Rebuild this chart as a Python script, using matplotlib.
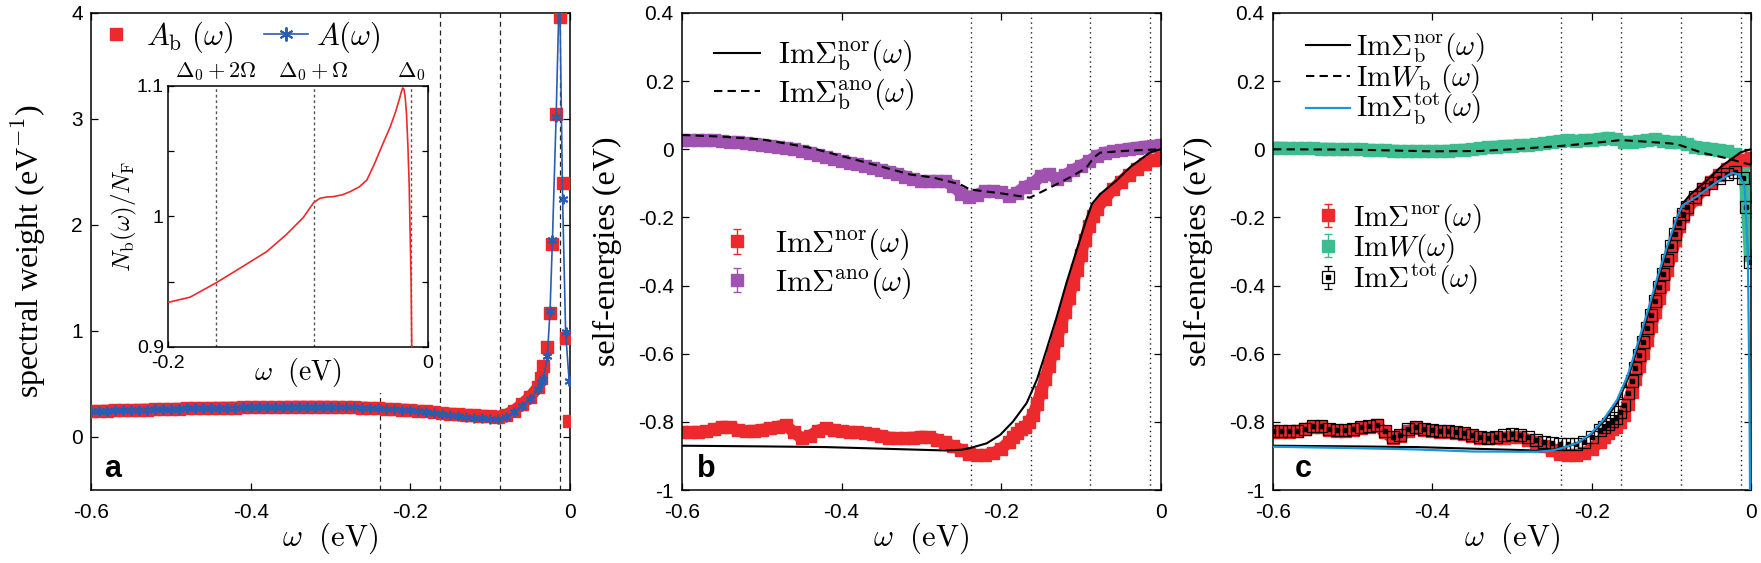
import numpy as np
import matplotlib.pyplot as plt
from matplotlib.lines import Line2D
from matplotlib.patches import Rectangle
from matplotlib.ticker import FuncFormatter
from matplotlib.legend_handler import HandlerTuple, HandlerErrorbar

plt.rcParams['mathtext.fontset'] = 'cm'
plt.rcParams['font.family'] = ['Liberation Sans', 'DejaVu Sans']
plt.rcParams['axes.unicode_minus'] = False

RED = '#ec2a2d'
BLUE = '#2a5cb0'
PURPLE = '#a052b0'
GREEN = '#3dbd8f'
SKY = '#1b96d8'

# energies of the Delta0 + n*Omega lines (eV)
delta_lines = [-0.238, -0.163, -0.088, -0.013]
inset_labels = [r'$\Delta_0+2\Omega$', r'$\Delta_0+\Omega$', r'$\Delta_0$']

# frequency grids (eV)
w_left = [-0.60, -0.59, -0.58, -0.57, -0.56, -0.55, -0.54, -0.53, -0.52, -0.51,
          -0.50, -0.49, -0.48, -0.47, -0.46, -0.45, -0.44, -0.43, -0.42, -0.41,
          -0.40, -0.39, -0.38, -0.37, -0.36, -0.35, -0.34, -0.33, -0.32, -0.31,
          -0.30, -0.29, -0.28, -0.27, -0.26, -0.25, -0.24, -0.23, -0.22, -0.21,
          -0.20, -0.19]
w_mid = [-0.18, -0.17, -0.16, -0.15, -0.14, -0.13, -0.12, -0.11, -0.10, -0.09, -0.08]
w_rise = [-0.185, -0.180, -0.175, -0.170, -0.165, -0.160, -0.155, -0.150, -0.145, -0.140,
          -0.135, -0.130, -0.125, -0.120, -0.115, -0.110, -0.105, -0.100, -0.095, -0.090,
          -0.085, -0.080]
w_tail = [-0.07, -0.06, -0.05, -0.04, -0.03, -0.02, -0.01]

# ---- panel a: spectral weight ----
w_a_band = w_left + w_mid + [-0.07, -0.06, -0.05, -0.04]
Ab_band = [0.245, 0.247, 0.249, 0.251, 0.253, 0.255, 0.257, 0.259, 0.261, 0.263,
           0.265, 0.267, 0.269, 0.271, 0.273, 0.275, 0.276, 0.277, 0.278, 0.279,
           0.280, 0.281, 0.282, 0.283, 0.284, 0.285, 0.286, 0.286, 0.286, 0.286,
           0.285, 0.284, 0.283, 0.281, 0.278, 0.275, 0.271, 0.267, 0.263, 0.259,
           0.255, 0.248, 0.241, 0.234, 0.227, 0.221, 0.215, 0.210, 0.206, 0.202,
           0.197, 0.192, 0.210, 0.250, 0.310, 0.380, 0.470]
A_band = [0.245, 0.247, 0.249, 0.251, 0.253, 0.255, 0.257, 0.259, 0.261, 0.263,
          0.265, 0.267, 0.269, 0.271, 0.273, 0.275, 0.276, 0.277, 0.278, 0.279,
          0.280, 0.281, 0.282, 0.283, 0.284, 0.285, 0.286, 0.286, 0.286, 0.286,
          0.285, 0.284, 0.283, 0.281, 0.278, 0.275, 0.271, 0.267, 0.263, 0.259,
          0.255, 0.246, 0.236, 0.226, 0.215, 0.205, 0.196, 0.188, 0.182, 0.176,
          0.170, 0.166, 0.190, 0.235, 0.295, 0.360, 0.450]
w_a_edge = [-0.036, -0.0333, -0.0284, -0.0250, -0.0220, -0.0174, -0.0131, -0.0093, -0.0055, -0.0011]
Ab_edge = [0.56, 0.67, 0.85, 1.17, 1.82, 3.05, 3.96, 2.40, 0.93, 0.15]
A_edge = [0.52, 0.55, 0.76, 1.19, 1.86, 3.02, 4.30, 2.25, 0.99, 0.53]

# inset: N_b(w)/N_F
w_in = [-0.200, -0.183, -0.163, -0.145, -0.124, -0.109, -0.096, -0.088, -0.083, -0.078,
        -0.073, -0.066, -0.060, -0.053, -0.047, -0.041, -0.035, -0.029, -0.025, -0.022,
        -0.0205, -0.0195, -0.0185, -0.0175, -0.0165, -0.0155, -0.0145, -0.0138, -0.0130,
        -0.0125]
n_in = [0.934, 0.938, 0.949, 0.960, 0.973, 0.986, 0.999, 1.0105, 1.0139, 1.0148,
        1.0151, 1.0165, 1.0189, 1.0225, 1.0279, 1.0407, 1.055, 1.0688, 1.080, 1.090,
        1.0955, 1.0985, 1.0975, 1.091, 1.078, 1.055, 1.025, 0.990, 0.950, 0.900]

# ---- panel b / c: self-energies ----
w_sig = w_left + w_rise + w_tail + [0.0]
sig_nor = [-0.830, -0.830, -0.829, -0.828, -0.822, -0.814, -0.815, -0.824, -0.828, -0.826,
           -0.823, -0.819, -0.814, -0.810, -0.830, -0.848, -0.842, -0.826, -0.819, -0.823,
           -0.828, -0.829, -0.831, -0.834, -0.837, -0.841, -0.846, -0.848, -0.848, -0.846,
           -0.843, -0.845, -0.852, -0.860, -0.872, -0.882, -0.894, -0.898, -0.897, -0.892,
           -0.880, -0.858,
           -0.845, -0.832, -0.822, -0.815, -0.800, -0.780, -0.748, -0.712, -0.675, -0.635,
           -0.597, -0.559, -0.518, -0.477, -0.436, -0.395, -0.353, -0.310, -0.267, -0.225,
           -0.196, -0.175,
           -0.145, -0.118, -0.095, -0.075, -0.058, -0.042, -0.032, -0.025]

w_full = w_left + w_mid + w_tail + [0.0]
sig_ano = [0.027, 0.027, 0.027, 0.027, 0.026, 0.024, 0.022, 0.020, 0.018, 0.016,
           0.014, 0.011, 0.008, 0.004, 0.000, -0.005, -0.010, -0.016, -0.022, -0.028,
           -0.034, -0.039, -0.044, -0.050, -0.056, -0.061, -0.066, -0.072, -0.080, -0.088,
           -0.093, -0.094, -0.093, -0.094, -0.108, -0.130, -0.140, -0.133, -0.123, -0.123,
           -0.125, -0.137, -0.127, -0.110, -0.100, -0.078, -0.072, -0.088, -0.075, -0.062,
           -0.048, -0.035, -0.020, -0.010, -0.006, -0.002, 0.002, 0.005, 0.008, 0.010,
           0.012]

w_b_nor = [-0.600, -0.500, -0.420, -0.330, -0.270, -0.250, -0.239, -0.218, -0.201, -0.185,
           -0.168, -0.155, -0.143, -0.130, -0.118, -0.105, -0.093, -0.086, -0.076, -0.056,
           -0.037, -0.013, 0.000]
sigb_nor = [-0.870, -0.872, -0.874, -0.880, -0.884, -0.882, -0.877, -0.863, -0.838, -0.799,
            -0.745, -0.676, -0.588, -0.490, -0.392, -0.294, -0.206, -0.160, -0.132, -0.093,
            -0.050, -0.009, 0.000]

w_b_ano = [-0.600, -0.550, -0.500, -0.440, -0.377, -0.314, -0.285, -0.251, -0.239, -0.201,
           -0.164, -0.139, -0.110, -0.093, -0.084, -0.076, -0.040, 0.000]
sigb_ano = [0.042, 0.037, 0.029, 0.005, -0.034, -0.074, -0.083, -0.103, -0.118, -0.129,
            -0.142, -0.113, -0.078, -0.054, -0.025, -0.010, -0.004, 0.000]

w_W = w_left + w_mid + w_tail + [-0.006, -0.0016]
W_vals = [0.005, 0.005, 0.004, 0.004, 0.003, 0.003, 0.002, 0.002, 0.001, 0.001,
          0.000, 0.000, -0.001, -0.002, -0.003, -0.004, -0.005, -0.006, -0.006, -0.006,
          -0.006, -0.005, -0.004, -0.003, -0.001, 0.001, 0.004, 0.006, 0.008, 0.010,
          0.011, 0.012, 0.013, 0.015, 0.018, 0.022, 0.025, 0.026, 0.025, 0.026,
          0.028, 0.031, 0.034, 0.030, 0.022, 0.021, 0.024, 0.028, 0.029, 0.025,
          0.022, 0.020, 0.016, 0.008, 0.004, 0.002, -0.001, -0.005, -0.015, -0.040,
          -0.140, -0.310]

w_Wb = [-0.600, -0.500, -0.400, -0.340, -0.300, -0.238, -0.200, -0.163, -0.130, -0.100,
        -0.089, -0.080, -0.068, -0.058, -0.029, -0.010, 0.000]
Wb_vals = [0.000, -0.001, -0.006, -0.005, 0.000, 0.010, 0.018, 0.027, 0.022, 0.017,
           0.012, 0.005, -0.005, -0.012, -0.027, -0.040, -0.045]

w_tot = w_left + w_rise + w_tail + [-0.006, -0.001]
sig_tot = [-0.828, -0.828, -0.827, -0.826, -0.820, -0.811, -0.811, -0.820, -0.825, -0.824,
           -0.820, -0.816, -0.812, -0.808, -0.828, -0.845, -0.838, -0.822, -0.815, -0.820,
           -0.825, -0.826, -0.828, -0.831, -0.834, -0.838, -0.843, -0.846, -0.845, -0.840,
           -0.836, -0.838, -0.845, -0.852, -0.860, -0.863, -0.865, -0.866, -0.864, -0.858,
           -0.845, -0.825,
           -0.815, -0.805, -0.798, -0.790, -0.772, -0.750, -0.716, -0.680, -0.643, -0.605,
           -0.565, -0.525, -0.485, -0.445, -0.405, -0.365, -0.325, -0.285, -0.250, -0.215,
           -0.190, -0.170,
           -0.140, -0.118, -0.100, -0.085, -0.072, -0.068, -0.085, -0.170, -0.330]

w_b_tot = [-0.600, -0.500, -0.420, -0.350, -0.270, -0.250, -0.239, -0.218, -0.201, -0.185,
           -0.168, -0.155, -0.143, -0.130, -0.118, -0.105, -0.093, -0.086, -0.067, -0.044,
           -0.024, -0.015, -0.008, -0.004, -0.002, -0.001]
sigb_tot = [-0.873, -0.877, -0.881, -0.887, -0.888, -0.884, -0.878, -0.862, -0.835, -0.793,
            -0.735, -0.665, -0.577, -0.478, -0.380, -0.283, -0.200, -0.165, -0.137, -0.098,
            -0.069, -0.074, -0.108, -0.300, -0.700, -1.100]

fmt = FuncFormatter(lambda v, p: f'{v:g}')
XLAB = r'$\omega\ \ (\mathrm{eV})$'
SERIF = ['Liberation Serif', 'DejaVu Serif']


def style_axes(ax, yticks, ylim):
    ax.set_xlim(-0.6, 0)
    ax.set_ylim(*ylim)
    ax.set_xticks([-0.6, -0.4, -0.2, 0])
    ax.set_yticks(yticks)
    ax.xaxis.set_major_formatter(fmt)
    ax.yaxis.set_major_formatter(fmt)
    ax.tick_params(direction='in', top=True, right=True, length=5, width=0.9,
                   labelsize=15)
    ax.tick_params(axis='x', pad=9)
    ax.tick_params(axis='y', pad=6)
    for s in ax.spines.values():
        s.set_linewidth(1.1)
    ax.set_xlabel(XLAB, fontsize=22)
    ax.xaxis.set_label_coords(0.5, -0.065, transform=ax.transAxes)
    ax.xaxis.label.set_va('top')


def eb_proxy(ax, **kw):
    return ax.errorbar([np.nan], [np.nan], yerr=[0.05], fmt='s', ms=9, capsize=3,
                       elinewidth=1.0, capthick=1.0, **kw)


def band(ax, w, v, color, z=2):
    ax.plot(w, v, color=color, lw=8.5, zorder=z, solid_capstyle='butt')
    ax.plot(w, v, 's', color=color, ms=8.5, zorder=z)


fig = plt.figure(figsize=(17.61, 5.63), dpi=100)
ax_a = fig.add_axes([91 / 1761, 73 / 563, 479 / 1761, 477 / 563])
ax_b = fig.add_axes([682 / 1761, 73 / 563, 478.6 / 1761, 477 / 563])
ax_c = fig.add_axes([1273 / 1761, 73 / 563, 478 / 1761, 477 / 563])

# ---------------- panel a ----------------
style_axes(ax_a, [0, 1, 2, 3, 4], (-0.5, 4))
for x in delta_lines:
    ax_a.axvline(x, color='#222222', lw=0.9, ls=(0, (4, 3)), zorder=1)
# opaque background of the inset (hides the Delta0+3Omega line above it)
ax_a.add_patch(Rectangle((0.029, 0.203), 0.69, 0.797, transform=ax_a.transAxes,
                         facecolor='white', edgecolor='none', zorder=2))
band(ax_a, w_a_band, Ab_band, RED, z=3)
ax_a.plot(w_a_edge, Ab_edge, 's', color=RED, ms=8.5, zorder=3)
ax_a.plot(w_a_band + w_a_edge, A_band + A_edge, '-', color=BLUE, lw=1.2,
          marker=(6, 2, 0), ms=7, mew=1.4, zorder=4)
ax_a.set_ylabel(r'spectral weight (eV$^{\mathsf{-1}}$)', fontsize=23, family=SERIF)
ax_a.yaxis.set_label_coords(-0.09, 0.5)
ax_a.text(0.028, 0.027, 'a', transform=ax_a.transAxes, fontsize=22, weight='bold',
          va='baseline')
h_ab = Line2D([], [], ls='none', marker='s', color=RED, ms=9)
h_a = Line2D([], [], color=BLUE, lw=1.2, marker=(6, 2, 0), ms=10, mew=1.4)
ax_a.legend([h_ab, h_a], [r'$A_{\rm b}\ (\omega)$', r'$A(\omega)$'], loc='center left',
            bbox_to_anchor=(0.006, 0.95), ncol=2, frameon=False, fontsize=22,
            handlelength=1.45, handletextpad=0.25, columnspacing=1.0,
            borderpad=0, borderaxespad=0)

# inset
ax_in = fig.add_axes([168 / 1761, (563 - 346.7) / 563, 260 / 1761, 260.7 / 563])
ax_in.set_xlim(-0.2, 0)
ax_in.set_ylim(0.9, 1.1)
for x in delta_lines[1:]:
    ax_in.axvline(x, color='#555555', lw=1.0, ls=(0, (2, 2)), zorder=1)
ax_in.plot(w_in, n_in, color=RED, lw=1.2, zorder=3)
ax_in.set_xticks([-0.2, 0])
ax_in.set_xticklabels(['-0.2', '0'])
ax_in.set_yticks([0.9, 0.95, 1.0, 1.05, 1.1])
ax_in.set_yticklabels(['0.9', '', '1', '', '1.1'])
ax_in.tick_params(direction='in', top=True, right=True, length=4, width=0.9,
                  labelsize=14, pad=3)
ax_in.tick_params(axis='x', pad=6)
for s in ax_in.spines.values():
    s.set_linewidth(1.1)
for x, lab in zip(delta_lines[1:], inset_labels):
    ax_in.text(x, 1.012, lab, transform=ax_in.get_xaxis_transform(), ha='center',
               va='bottom', fontsize=16)
ax_in.set_xlabel(XLAB, fontsize=20)
ax_in.xaxis.set_label_coords(0.5, -0.1)
ax_in.xaxis.label.set_va('center')
ax_in.set_ylabel(r'$N_{\rm b}(\omega)/N_{\rm F}$', fontsize=18)
ax_in.yaxis.set_label_coords(-0.11, 0.5)

# ---------------- panel b ----------------
yt = [-1, -0.8, -0.6, -0.4, -0.2, 0, 0.2, 0.4]
style_axes(ax_b, yt, (-1, 0.4))
for x in delta_lines:
    ax_b.axvline(x, color='#222222', lw=1.0, ls=(0, (1, 2.5)), zorder=1)
band(ax_b, w_full, sig_ano, PURPLE)
band(ax_b, w_sig, sig_nor, RED)
l_nor, = ax_b.plot(w_b_nor, sigb_nor, color='black', lw=1.5, zorder=4)
l_ano, = ax_b.plot(w_b_ano, sigb_ano, color='black', lw=1.5, ls=(0, (4, 2.5)), zorder=4)
ax_b.set_ylabel('self-energies (eV)', fontsize=23, family=SERIF)
ax_b.yaxis.set_label_coords(-0.125, 0.5)
ax_b.text(0.031, 0.027, 'b', transform=ax_b.transAxes, fontsize=22, weight='bold',
          va='baseline')

e_nor_b = eb_proxy(ax_b, color=RED)
e_ano_b = eb_proxy(ax_b, color=PURPLE)
hmap = {type(e_nor_b): HandlerErrorbar(yerr_size=0.4), tuple: HandlerTuple(ndivide=1)}

leg1 = ax_b.legend([l_nor, l_ano],
                   [r'$\mathrm{Im}\Sigma^{\rm nor}_{\rm b}(\omega)$',
                    r'$\mathrm{Im}\Sigma^{\rm ano}_{\rm b}(\omega)$'],
                   loc='center left', bbox_to_anchor=(0.067, 0.87), frameon=False,
                   fontsize=22, handlelength=1.5, handletextpad=0.6, labelspacing=0.1,
                   borderpad=0, borderaxespad=0)
ax_b.add_artist(leg1)
ax_b.legend([e_nor_b, e_ano_b],
            [r'$\mathrm{Im}\Sigma^{\rm nor}(\omega)$', r'$\mathrm{Im}\Sigma^{\rm ano}(\omega)$'],
            loc='center left', bbox_to_anchor=(0.0825, 0.474), frameon=False,
            fontsize=22, handlelength=1.0, handletextpad=0.75, labelspacing=0.1,
            borderpad=0, borderaxespad=0, handler_map=hmap)

# ---------------- panel c ----------------
style_axes(ax_c, yt, (-1, 0.4))
for x in delta_lines:
    ax_c.axvline(x, color='#222222', lw=1.0, ls=(0, (1, 2.5)), zorder=1)
band(ax_c, w_W, W_vals, GREEN)
band(ax_c, w_sig, sig_nor, RED)
ax_c.plot(w_tot, sig_tot, 's', mfc='none', mec='black', mew=0.9, ms=8, zorder=3)
ax_c.plot(w_tot, sig_tot, 's', color='black', ms=3, zorder=3)
c_nor, = ax_c.plot(w_b_nor, sigb_nor, color='black', lw=1.5, zorder=4)
c_W, = ax_c.plot(w_Wb, Wb_vals, color='black', lw=1.5, ls=(0, (4, 2.5)), zorder=4)
c_tot, = ax_c.plot(w_b_tot, sigb_tot, color=SKY, lw=1.6, zorder=5)
ax_c.set_ylabel('self-energies (eV)', fontsize=23, family=SERIF)
ax_c.yaxis.set_label_coords(-0.125, 0.5)
ax_c.text(0.045, 0.027, 'c', transform=ax_c.transAxes, fontsize=22, weight='bold',
          va='baseline')

leg2 = ax_c.legend([c_nor, c_W, c_tot],
                   [r'$\mathrm{Im}\Sigma^{\rm nor}_{\rm b}(\omega)$',
                    r'$\mathrm{Im}W_{\rm b}\ (\omega)$',
                    r'$\mathrm{Im}\Sigma^{\rm tot}_{\rm b}(\omega)$'],
                   loc='center left', bbox_to_anchor=(0.069, 0.861), frameon=False,
                   fontsize=21, handlelength=1.5, handletextpad=0.2, labelspacing=-0.1,
                   borderpad=0, borderaxespad=0)
ax_c.add_artist(leg2)
e_nor_c = eb_proxy(ax_c, color=RED)
e_W_c = eb_proxy(ax_c, color=GREEN)
e_tot_c = eb_proxy(ax_c, color='black', mfc='white', mec='black', mew=0.9)
dot = Line2D([], [], ls='none', marker='s', color='black', ms=3)
ax_c.legend([e_nor_c, e_W_c, (e_tot_c, dot)],
            [r'$\mathrm{Im}\Sigma^{\rm nor}(\omega)$', r'$\mathrm{Im}W(\omega)$',
             r'$\mathrm{Im}\Sigma^{\rm tot}(\omega)$'],
            loc='center left', bbox_to_anchor=(0.085, 0.505), frameon=False,
            fontsize=21, handlelength=1.0, handletextpad=0.36, labelspacing=-0.1,
            borderpad=0, borderaxespad=0, handler_map=hmap)

fig.savefig('out.png', dpi=100)
